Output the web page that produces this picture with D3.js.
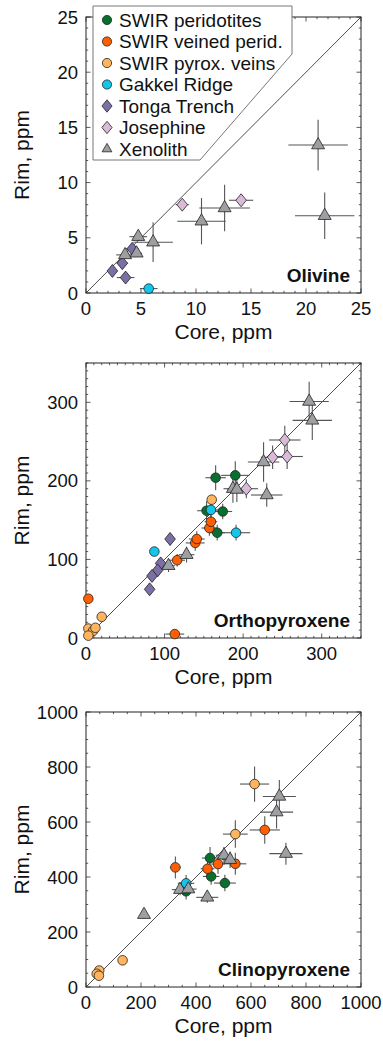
<!DOCTYPE html>
<html>
<head>
<meta charset="utf-8">
<style>
  body { margin: 0; background: #fff; }
  svg { display: block; font-family: 'Liberation Sans', Arial, sans-serif; }
</style>
</head>
<body>
<svg width="383" height="1042"></svg>
<script src="https://d3js.org/d3.v7.min.js"></script>
<script>
// series names + legend
const seriesNames = ["SWIR peridotites", "SWIR veined perid.", "SWIR pyrox. veins",
  "Gakkel Ridge", "Tonga Trench", "Josephine", "Xenolith"];
const seriesColors = ["#08702e", "#ff5f00", "#ffb45e", "#12c6ec", "#7c6fa6", "#d9bbd9", "#9d9fa3"];
const seriesShapes = ["circle", "circle", "circle", "circle", "diamond", "diamond", "triangle"];

// each point: [core, rim, coreErr, rimErr]
// --- Olivine
const olPerid = [];
const olVeined = [];
const olPyrox = [];
const olGakkel = [[5.7, 0.4, 0.8, 0.3]];
const olTonga = [[2.4, 2.0, 0.4, 0.3], [3.3, 2.7, 0.5, 0.4], [3.6, 1.4, 0.8, 0.4], [4.2, 4.0, 0.6, 0.4]];
const olJoseph = [[8.75, 8.0, 0.6, 0.5], [14.1, 8.4, 1.1, 0.5]];
const olXeno = [[21.1, 13.4, 2.7, 2.3], [21.7, 7.0, 2.7, 2.1], [12.6, 7.7, 2.3, 2.1], [10.5, 6.5, 2.2, 2.1],
  [6.1, 4.6, 1.8, 1.8], [4.75, 5.1, 0.8, 0.4], [3.55, 3.45, 0.8, 0.3], [4.6, 3.6, 0.5, 0.3]];

// --- Orthopyroxene
const opxPerid = [[165, 204, 13, 16], [190, 207, 18, 18], [153.5, 162, 12, 12], [174, 161, 12, 10], [167, 134, 10, 10]];
const opxVeined = [[3, 50, 0, 0], [113, 5, 12, 3], [116, 99, 10, 8], [139, 121, 12, 10], [141, 126, 10, 10],
  [157, 140, 10, 10], [159, 148, 8, 10]];
const opxPyrox = [[3, 12, 0, 0], [9, 9, 0, 0], [12, 13, 0, 0], [3, 3, 0, 0], [20, 27, 0, 0], [160, 176, 0, 0]];
const opxGakkel = [[87, 110, 5, 5], [159, 163, 12, 10], [191, 134, 18, 10]];
const opxTonga = [[107, 126, 5, 8], [95, 95, 5, 5], [91, 86, 4, 4], [84, 79, 4, 4], [81, 62, 3, 5]];
const opxJoseph = [[204, 190, 15, 12], [237.5, 230, 15, 15], [253, 252, 20, 18], [256, 231, 20, 16]];
const opxXeno = [[105, 92, 8, 8], [128, 106, 10, 10], [187, 190, 12, 18], [192, 189, 12, 16], [230, 182, 20, 15],
  [226, 224, 20, 25], [284, 301, 25, 25], [288, 277, 25, 25]];

// --- Clinopyroxene
const cpxPerid = [[451, 469, 30, 40], [455, 402, 30, 30], [505, 378, 40, 30], [364, 348, 30, 30]];
const cpxVeined = [[325, 435, 20, 40], [442, 430, 25, 30], [480, 447, 25, 35], [543, 448, 40, 40], [650, 571, 55, 50]];
const cpxPyrox = [[613, 738, 53, 64], [543, 556, 45, 50], [133, 97, 0, 0], [48, 60, 0, 0], [39, 48, 0, 0], [47, 41, 0, 0]];
const cpxGakkel = [[364, 377, 30, 30]];
const cpxTonga = [];
const cpxJoseph = [];
const cpxXeno = [[211, 263, 10, 15], [342, 354, 30, 20], [372, 356, 30, 20], [441, 326, 40, 20], [502, 479, 30, 30],
  [524, 463, 30, 30], [703, 693, 60, 60], [693, 636, 60, 60], [727, 485, 60, 40]];

const panels = [
  { name: "Olivine", top: 17, bottom: 293, max: 25, major: 5, minor: 1,
    series: [olPerid, olVeined, olPyrox, olGakkel, olTonga, olJoseph, olXeno], legend: true },
  { name: "Orthopyroxene", top: 363, bottom: 638, max: 350, major: 100, minor: 10,
    series: [opxPerid, opxVeined, opxPyrox, opxGakkel, opxTonga, opxJoseph, opxXeno] },
  { name: "Clinopyroxene", top: 712, bottom: 987, max: 1000, major: 200, minor: 50,
    series: [cpxPerid, cpxVeined, cpxPyrox, cpxGakkel, cpxTonga, cpxJoseph, cpxXeno] }
];

const left = 86, right = 361;
const svg = d3.select("svg");

function shapePath(shape, s) {
  if (shape === "diamond") return `M0,${-s}L${s * 0.82},0L0,${s}L${-s * 0.82},0Z`;
  if (shape === "triangle") { let h = s * 0.866; return `M0,${-h * 2 / 3}L${s / 2},${h / 3}L${-s / 2},${h / 3}Z`; }
  return null;
}

function drawMarker(g, shape, color, x, y, size) {
  if (shape === "circle") {
    g.append("circle").attr("cx", x).attr("cy", y).attr("r", size)
      .style("fill", color).style("stroke", "#222").style("stroke-width", 0.8);
  } else {
    let s = shape === "diamond" ? size * 1.35 : size * 2.7;
    g.append("path").attr("d", shapePath(shape, s)).attr("transform", `translate(${x},${y})`)
      .style("fill", color).style("stroke", "#222").style("stroke-width", 0.8);
  }
}

panels.forEach(p => {
  const x = d3.scaleLinear().domain([0, p.max]).range([left, right]);
  const y = d3.scaleLinear().domain([0, p.max]).range([p.bottom, p.top]);
  const g = svg.append("g");

  // ticks on all sides, inward
  const majors = d3.range(0, p.max + 1e-9, p.major);
  const minors = d3.range(0, p.max + 1e-9, p.minor);
  const tickG = g.append("g").style("stroke", "#333").style("stroke-width", 0.8);
  minors.forEach(v => {
    let isMajor = Math.abs(v / p.major - Math.round(v / p.major)) < 1e-6;
    let len = isMajor ? 4.5 : 2.2;
    tickG.append("line").attr("x1", x(v)).attr("x2", x(v)).attr("y1", p.bottom).attr("y2", p.bottom - len);
    tickG.append("line").attr("x1", x(v)).attr("x2", x(v)).attr("y1", p.top).attr("y2", p.top + len);
    tickG.append("line").attr("y1", y(v)).attr("y2", y(v)).attr("x1", left).attr("x2", left + len);
    tickG.append("line").attr("y1", y(v)).attr("y2", y(v)).attr("x1", right).attr("x2", right - len);
  });

  g.append("rect").attr("x", left).attr("y", p.top).attr("width", right - left).attr("height", p.bottom - p.top)
    .style("fill", "none").style("stroke", "#222").style("stroke-width", 1);

  // tick labels
  g.selectAll(".xl").data(majors).join("text")
    .attr("x", d => x(d)).attr("y", p.bottom + 22).attr("text-anchor", "middle")
    .style("font-size", "18.5px").style("fill", "#111").text(d => d);
  g.selectAll(".yl").data(majors).join("text")
    .attr("x", left - 8).attr("y", d => y(d) + 6.5).attr("text-anchor", "end")
    .style("font-size", "18.5px").style("fill", "#111").text(d => d);

  // axis titles
  g.append("text").attr("x", (left + right) / 2).attr("y", p.bottom + 46).attr("text-anchor", "middle")
    .style("font-size", "21px").style("fill", "#111").text("Core, ppm");
  g.append("text").attr("transform", `translate(29,${(p.top + p.bottom) / 2}) rotate(-90)`)
    .attr("text-anchor", "middle").style("font-size", "21px").style("fill", "#111").text("Rim, ppm");

  // 1:1 line
  g.append("line").attr("x1", x(0)).attr("y1", y(0)).attr("x2", x(p.max)).attr("y2", y(p.max))
    .style("stroke", "#222").style("stroke-width", 0.8);

  // error bars
  const errG = g.append("g").style("stroke", "#555").style("stroke-width", 1.1);
  p.series.forEach(ser => {
    ser.forEach(d => {
      if (d[2] > 0) errG.append("line").attr("x1", x(d[0] - d[2])).attr("x2", x(d[0] + d[2]))
        .attr("y1", y(d[1])).attr("y2", y(d[1]));
      if (d[3] > 0) errG.append("line").attr("y1", y(d[1] - d[3])).attr("y2", y(d[1] + d[3]))
        .attr("x1", x(d[0])).attr("x2", x(d[0]));
    });
  });

  // markers
  const mG = g.append("g");
  p.series.forEach((ser, i) => {
    ser.forEach(d => drawMarker(mG, seriesShapes[i], seriesColors[i], x(d[0]), y(d[1]), 4.8));
  });

  // panel name
  g.append("text").attr("x", 350).attr("y", p.bottom - 11).attr("text-anchor", "end")
    .style("font-size", "19px").style("font-weight", "bold").style("fill", "#111").text(p.name);

  if (p.legend) {
    const lg = svg.append("g");
    lg.append("path").attr("d", "M93,6H292V54L200,160H93Z")
      .style("fill", "#fff").style("stroke", "#777").style("stroke-width", 1);
    seriesNames.forEach((n, i) => {
      let cy = 20 + i * 21.5;
      drawMarker(lg, seriesShapes[i], seriesColors[i], 107, cy, seriesShapes[i] === "triangle" ? 3.6 : 4.6);
      lg.append("text").attr("x", 119).attr("y", cy + 6.5).style("font-size", "19px").style("fill", "#111").text(n);
    });
  }
});
</script>
</body>
</html>
